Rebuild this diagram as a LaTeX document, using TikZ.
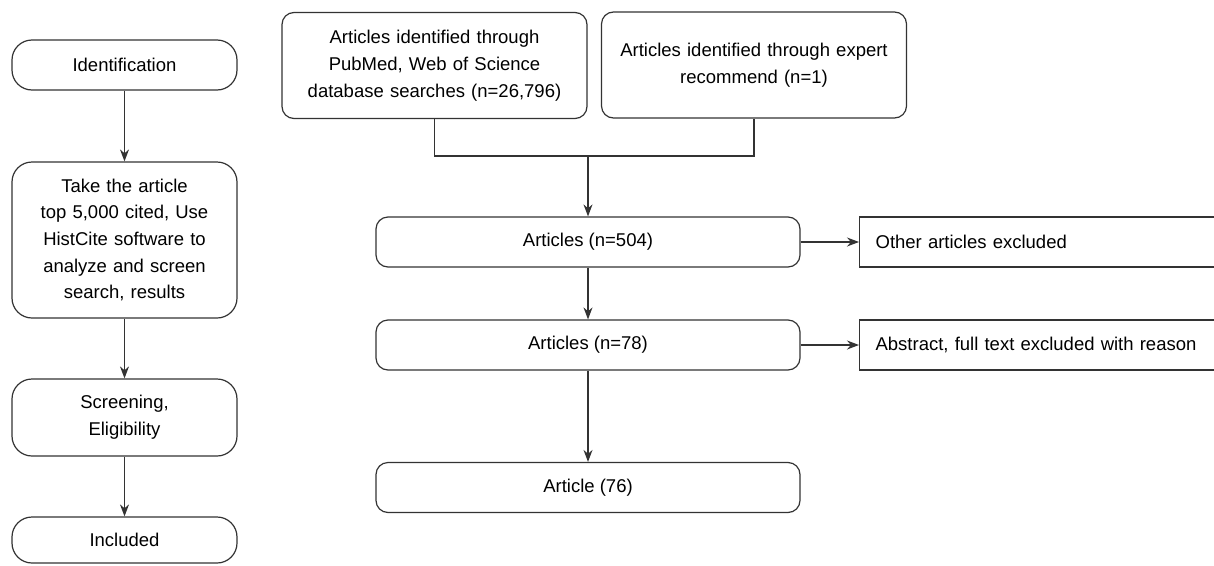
\documentclass[tikz,border=0pt]{standalone}
\usepackage{fontspec}
\setmainfont{Liberation Sans}
\usetikzlibrary{arrows.meta}
\begin{document}
\begin{tikzpicture}[x=1pt,y=-1pt,line width=1.2pt]
  \tikzset{ stage/.style={draw=black!80,rounded corners=20pt,inner sep=0pt,minimum width=225pt,text width=205pt,align=center,font=\fontsize{18.5}{26.7}\selectfont},
    src/.style={draw=black!80,rounded corners=12pt,inner sep=0pt,minimum width=305pt,minimum height=106pt,text width=280pt,align=center,font=\fontsize{18.5}{27}\selectfont},
    art/.style={draw=black!80,rounded corners=12pt,inner sep=0pt,minimum width=424pt,minimum height=50pt,font=\fontsize{18.5}{26.7}\selectfont},
    excl/.style={draw=black!80,anchor=west,inner xsep=16pt,inner ysep=0pt,text width=400pt,minimum height=50pt,align=left,font=\fontsize{18.5}{26.7}\selectfont},
    arr/.style={-{Stealth[length=12pt,width=9pt]},draw=black!80},
  }
  \useasboundingbox (0,0) rectangle (1214,565);

  % left column
  \node[stage,minimum height=50pt] (id) at (124.5,65) {Identification};
  \node[stage,minimum height=156pt] (take) at (124.5,240) {Take the article\\top 5,000 cited, Use\\HistCite software to\\analyze and screen\\search, results};
  \node[stage,minimum height=77pt] (screen) at (124.5,417.5) {Screening,\\Eligibility};
  \node[stage,minimum height=46pt] (incl) at (124.5,540) {Included};

  \draw[arr] (id) -- (take);
  \draw[arr] (take) -- (screen);
  \draw[arr] (screen) -- (incl);

  % sources
  \node[src] (pubmed) at (434.5,65.5) {Articles identified through\\PubMed, Web of Science\\database searches (n=26,796)};
  \node[src] (expert) at (754,65) {Articles identified through expert\\recommend (n=1)};
  \coordinate (join) at (588,156);
  \draw[draw=black!80] (pubmed.south) |- (join) -| (expert.south);

  % articles
  \node[art] (a504) at (588,242) {Articles (n=504)};
  \node[art] (a78) at (588,345) {Articles (n=78)};
  \node[art] (a76) at (588,487.5) {Article (76)};
  \node[excl] (ex1) at (859,242) {Other articles excluded};
  \node[excl] (ex2) at (859,345) {Abstract, full text excluded with reason};

  \draw[arr] (join) -- (a504);
  \draw[arr] (a504) -- (a78);
  \draw[arr] (a78) -- (a76);
  \draw[arr] (a504) -- (ex1);
  \draw[arr] (a78) -- (ex2);
\end{tikzpicture}
\end{document}
